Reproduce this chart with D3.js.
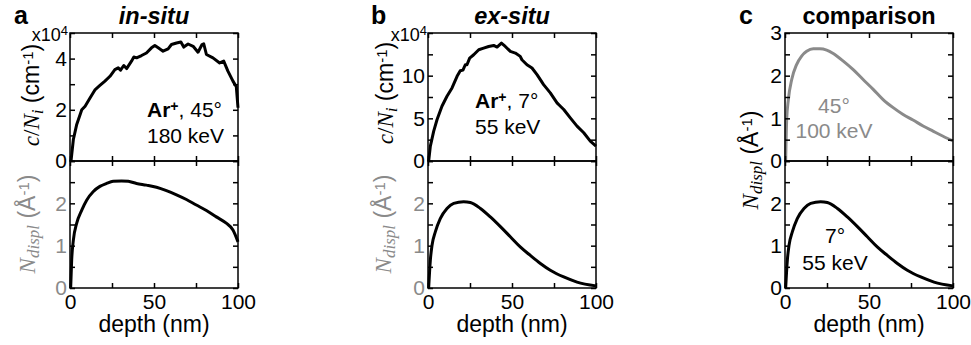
<!DOCTYPE html>
<html><head><meta charset="utf-8">
<script src="https://cdn.jsdelivr.net/npm/d3@7"></script>
<style>body{margin:0;background:#fff}svg{display:block}</style>
</head><body><svg id="chart" width="971" height="345"></svg>
<script>
// ---------- data ----------
const depthTicks = [0, 25, 50, 75, 100];
const depthLabels = [0, 50, 100];

// panel a (in-situ, Ar+ 45°, 180 keV): c/N_i in units of 1e4 cm^-1
const inSituConc = [[0.6,0],[2,0.84],[4,1.43],[7,2.0],[9,2.14],[12,2.47],[15,2.79],[17.8,2.95],[20.8,3.12],[23.8,3.31],[26.7,3.57],[28.7,3.64],[30.1,3.55],[32,3.73],[33.7,3.61],[36.6,3.9],[38,4.06],[39.6,4.03],[42.6,4.12],[45.5,4.22],[48.5,4.42],[50.5,4.51],[52.5,4.42],[55.4,4.29],[58.4,4.38],[60.4,4.55],[63.4,4.61],[66,4.65],[67.7,4.45],[70.3,4.57],[73.3,4.48],[76.2,4.25],[78.6,4.55],[79.6,4.58],[81.2,4.16],[85.1,4.03],[89.1,3.83],[91.5,3.9],[94,3.51],[97,3.12],[99,2.9],[100,2.08]];
// panel a: N_displ (Å^-1)
const inSituDispl = [[0.4,0],[1,0.66],[2,1.13],[4,1.53],[7,1.84],[10,2.08],[13.9,2.28],[17.8,2.4],[21.8,2.47],[25.7,2.52],[30.7,2.53],[34.7,2.52],[39.6,2.47],[45.5,2.43],[51.5,2.38],[57.4,2.3],[63.4,2.2],[69.3,2.09],[75.2,1.96],[81.2,1.83],[87.1,1.68],[93,1.53],[97,1.37],[100,1.09]];

// panel b (ex-situ, Ar+ 7°, 55 keV): c/N_i in units of 1e4 cm^-1
const exSituConc = [[0.4,0],[1.4,1.75],[3.4,3.5],[5.4,4.86],[8.3,6.42],[11.3,7.59],[14.3,8.56],[17.3,9.92],[19.2,10.58],[20.8,10.65],[22.2,11.28],[23.2,11.28],[24.8,12.06],[27.2,12.45],[30.2,13.04],[33.1,13.23],[36.1,13.42],[39.1,13.54],[41.1,13.35],[43.7,13.81],[46,13.42],[49,12.84],[52,12.65],[54.9,12.26],[55.9,11.87],[58.9,11.28],[61.9,10.9],[64.9,10.12],[68.8,8.95],[72.8,7.98],[76.8,6.81],[78.8,6.42],[80.8,6.03],[84.7,5.06],[88.7,4.09],[92.7,3.31],[96.6,2.33],[100,1.75]];
// panel b and c (7°, 55 keV): N_displ (Å^-1)
const exSituDispl = [[0.4,0],[1.4,0.66],[2.4,1.01],[4.4,1.33],[7.3,1.64],[11.3,1.88],[15.3,2.0],[21.2,2.04],[25.2,2.02],[31.2,1.88],[37.1,1.68],[43.1,1.45],[49,1.21],[54.9,0.97],[60.9,0.77],[66.9,0.58],[72.8,0.42],[80.8,0.26],[88.7,0.14],[100,0.05]];
// panel c (45°, 100 keV): N_displ (Å^-1)
const cmp45Displ = [[0.4,0],[1,0.97],[2,1.44],[4,1.91],[6.9,2.26],[9.9,2.46],[12.9,2.57],[16.8,2.63],[20.8,2.63],[24.8,2.6],[28.7,2.52],[34.7,2.34],[40.6,2.14],[46.5,1.91],[52.5,1.68],[58.4,1.44],[64.4,1.25],[70.3,1.09],[76.2,0.96],[82.2,0.82],[88.1,0.7],[94.1,0.58],[100,0.47]];

const concTicksA = [0,1,2,3,4,5], concLabelsA = [0,2,4];
const concTicksB = [0,2.5,5,7.5,10,12.5,15], concLabelsB = [0,5,10];
const displTicks = [0,0.5,1,1.5,2,2.5,3], displLabels = [0,1,2], displLabelsC = [0,1,2,3];

// ---------- drawing ----------
const GRAY = "#8a8a8a";
const SANS = "'Liberation Sans', Arial, sans-serif";
const SERIF = "'Liberation Serif', 'Times New Roman', serif";
const svg = d3.select("#chart").attr("font-family", SANS);

const TOP = 33, MID = 161, BOT = 288;
const panels = {a:[70,238], b:[428,596], c:[785,953]};

function frame(xs, ys, yTicks, yLabels, yColor, showX){
  const [X0, X1] = xs.range();
  const [Yb, Yt] = ys.range();
  const style = g => {
    g.select(".domain").remove();
    g.selectAll(".tick line").attr("stroke","#000").attr("stroke-width",1.5);
    g.attr("font-size",21).attr("font-family",SANS);
  };
  const gl = svg.append("g").attr("transform",`translate(${X0},0)`)
    .call(d3.axisLeft(ys).tickValues(yTicks).tickSize(-5).tickPadding(3)
      .tickFormat(d => yLabels.includes(d) ? d : "")).call(style);
  gl.selectAll("text").attr("fill", yColor);
  svg.append("g").attr("transform",`translate(${X1},0)`)
    .call(d3.axisRight(ys).tickValues(yTicks).tickSize(-5).tickFormat(()=>"")).call(style);
  svg.append("g").attr("transform",`translate(0,${Yt})`)
    .call(d3.axisTop(xs).tickValues(depthTicks).tickSize(-5).tickFormat(()=>"")).call(style);
  const gb = svg.append("g").attr("transform",`translate(0,${Yb})`)
    .call(d3.axisBottom(xs).tickValues(depthTicks).tickSize(-5).tickPadding(6)
      .tickFormat(d => showX && depthLabels.includes(d) ? d : "")).call(style);
  gb.selectAll("text").attr("fill","#000");
  svg.append("rect").attr("x",X0).attr("y",Yt).attr("width",X1-X0).attr("height",Yb-Yt)
    .attr("fill","none").attr("stroke","#000").attr("stroke-width",1.5);
}

function curve(xs, ys, data, color, smooth){
  svg.append("path").datum(data)
    .attr("d", d3.line().x(d=>xs(d[0])).y(d=>ys(d[1])).curve(smooth ? d3.curveMonotoneX : d3.curveLinear))
    .attr("fill","none").attr("stroke",color).attr("stroke-width",3).attr("stroke-linejoin","round");
}

// rotated y label
function ylabel(x, y, parts, color){
  const t = svg.append("text").attr("transform",`translate(${x},${y}) rotate(-90)`)
    .attr("text-anchor","middle").attr("font-size",23).attr("fill",color);
  parts.forEach(p => {
    const s = t.append("tspan").text(p.t);
    if (p.serif) s.attr("font-family",SERIF);
    if (p.it) s.attr("font-style","italic");
    if (p.sub) s.attr("baseline-shift","-25%").attr("font-size",17);
    if (p.sup) s.attr("baseline-shift","40%").attr("font-size",15);
  });
}
const concLabel = [{t:"c",serif:1,it:1},{t:"/",serif:1},{t:"N",serif:1,it:1},{t:"i",serif:1,it:1,sub:1},{t:" (cm"},{t:"-1",sup:1},{t:")"}];
const displLabel = [{t:"N",serif:1,it:1},{t:"displ",serif:1,it:1,sub:1},{t:" (Å"},{t:"-1",sup:1},{t:")"}];

function multiplier(xRight){
  const t = svg.append("text").attr("x",xRight).attr("y",41).attr("text-anchor","end").attr("font-size",18);
  t.append("tspan").text("x10");
  t.append("tspan").text("4").attr("font-size",13).attr("baseline-shift","45%");
}

function heading(letter, lx, title, cx){
  svg.append("text").attr("x",lx).attr("y",24).attr("font-size",25).attr("font-weight","bold").text(letter);
  const t = svg.append("text").attr("x",cx).attr("y",24).attr("font-size",23.5).attr("font-weight","bold")
    .attr("text-anchor","middle").text(title);
  if (title !== "comparison") t.attr("font-style","italic");
}

function note(x, y, anchor, color, lines){
  lines.forEach((ln, i) => {
    const t = svg.append("text").attr("x",x).attr("y",y[i]).attr("text-anchor",anchor)
      .attr("font-size",21).attr("fill",color);
    ln.forEach(p => {
      const s = t.append("tspan").text(p.t);
      if (p.b) s.attr("font-weight","bold");
      if (p.sup) s.attr("baseline-shift","40%").attr("font-size",14).attr("font-weight","bold");
    });
  });
}

function xlabel(cx){
  svg.append("text").attr("x",cx).attr("y",332).attr("text-anchor","middle").attr("font-size",23).text("depth (nm)");
}

// ---- panel a ----
{
  const [X0,X1] = panels.a;
  const xs = d3.scaleLinear().domain([0,100]).range([X0,X1]);
  const yt = d3.scaleLinear().domain([0,5]).range([MID,TOP]);
  const yb = d3.scaleLinear().domain([0,3]).range([BOT,MID]);
  curve(xs, yt, inSituConc, "#000", false);
  curve(xs, yb, inSituDispl, "#000", true);
  frame(xs, yt, concTicksA, concLabelsA, "#000", false);
  frame(xs, yb, displTicks, displLabels, GRAY, true);
  ylabel(39, 95, concLabel, "#000");
  ylabel(35, 224, displLabel, GRAY);
  multiplier(68);
  heading("a", 14, "in-situ", (X0+X1)/2);
  note(147, [117,143], "start", "#000", [[{t:"Ar",b:1},{t:"+",sup:1},{t:", 45°"}],[{t:"180 keV"}]]);
  xlabel((X0+X1)/2);
}
// ---- panel b ----
{
  const [X0,X1] = panels.b;
  const xs = d3.scaleLinear().domain([0,100]).range([X0,X1]);
  const yt = d3.scaleLinear().domain([0,15]).range([MID,TOP]);
  const yb = d3.scaleLinear().domain([0,3]).range([BOT,MID]);
  curve(xs, yt, exSituConc, "#000", false);
  curve(xs, yb, exSituDispl, "#000", true);
  frame(xs, yt, concTicksB, concLabelsB, "#000", false);
  frame(xs, yb, displTicks, displLabels, GRAY, true);
  ylabel(393, 93, concLabel, "#000");
  ylabel(391, 224, displLabel, GRAY);
  multiplier(427);
  heading("b", 371, "ex-situ", (X0+X1)/2);
  note(475, [108,134], "start", "#000", [[{t:"Ar",b:1},{t:"+",sup:1},{t:", 7°"}],[{t:"55 keV"}]]);
  xlabel((X0+X1)/2);
}
// ---- panel c ----
{
  const [X0,X1] = panels.c;
  const xs = d3.scaleLinear().domain([0,100]).range([X0,X1]);
  const yt = d3.scaleLinear().domain([0,3]).range([MID,TOP]);
  const yb = d3.scaleLinear().domain([0,3]).range([BOT,MID]);
  curve(xs, yt, cmp45Displ, GRAY, true);
  curve(xs, yb, exSituDispl, "#000", true);
  frame(xs, yt, displTicks, displLabelsC, "#000", false);
  frame(xs, yb, displTicks, displLabels, "#000", true);
  ylabel(758, 160, displLabel, "#000");
  heading("c", 739, "comparison", (X0+X1)/2);
  note(834, [113,138], "middle", GRAY, [[{t:"45°"}],[{t:"100 keV"}]]);
  note(835, [243,270], "middle", "#000", [[{t:"7°"}],[{t:"55 keV"}]]);
  xlabel((X0+X1)/2);
}
</script></body></html>
